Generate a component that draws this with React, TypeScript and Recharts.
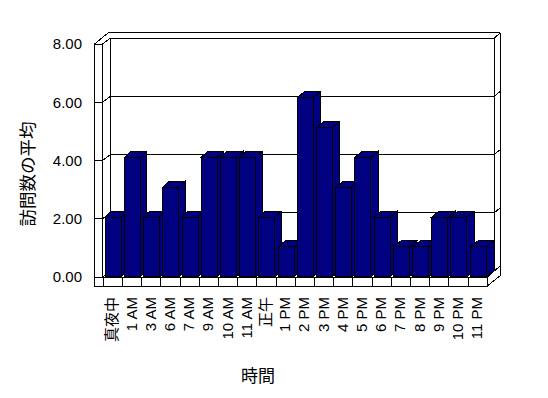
import React from 'react';
import { BarChart, Bar, XAxis, YAxis, CartesianGrid } from 'recharts';

const categories = ['真夜中', '1 AM', '3 AM', '6 AM', '7 AM', '9 AM', '10 AM', '11 AM', '正午', '1 PM', '2 PM', '3 PM', '4 PM', '5 PM', '6 PM', '7 PM', '8 PM', '9 PM', '10 PM', '11 PM'];
const visits = [2, 4, 2, 3, 2, 4, 4, 4, 2, 1, 6, 5, 3, 4, 2, 1, 1, 2, 2, 1];
const yTicks = [0, 2, 4, 6, 8];
const yTitle = '訪問数の平均';
const xTitle = '時間';

const data = categories.map((c, i) => ({ cat: c, v: visits[i] }));

const W = 548;
const H = 398;
const PL = 94.3; // plot left (left wall outer)
const PR = 487.3; // plot right
const PT = 37.9;
const PB = 276.7;
const PAD_L = 9;
const BAND = (PR - PL - PAD_L) / categories.length;
const FONT = '"Liberation Sans", Arial, "Noto Sans CJK JP", sans-serif';
const NAVY = '#000080';
const CRISP = 'crispEdges' as const;

const K = 233 / (PB - PT);
const frontY = (y: number) => 277 - (PB - y) * K;
const backY = (y: number) => 271 - (PB - y) * K;

const WALL_IN = 102.5;
const BACK_L = 110.5;
const BACK_R = 494.3;
const OUT_R = 500.3;

const Bar3D = (props: any) => {
  const { x, y, width, height } = props;
  if (height == null || height <= 0) return null;
  const dx = 6 + (2 * (x - 104)) / 366;
  const dy = -6;
  const top = `${x},${y} ${x + dx},${y + dy} ${x + width + dx},${y + dy} ${x + width},${y}`;
  const side = `${x + width},${y} ${x + width + dx},${y + dy} ${x + width + dx},${y + height + dy} ${x + width},${y + height}`;
  return (
    <g shapeRendering={CRISP}>
      <polygon points={side} fill={NAVY} stroke="#000" strokeWidth={1} />
      <polygon points={top} fill={NAVY} stroke="#000" strokeWidth={1} />
      <rect x={x} y={y} width={width} height={height} fill={NAVY} stroke="#000" strokeWidth={1} />
    </g>
  );
};

const GridLine = (props: any) => {
  const y = props.y1;
  const yf = frontY(y);
  const yb = backY(y);
  return (
    <g key={props.key ?? `g-${y}`} shapeRendering={CRISP}>
      <line x1={WALL_IN} y1={yf} x2={BACK_L} y2={yb} stroke="#000" />
      <line x1={BACK_L} y1={yb} x2={BACK_R} y2={yb} stroke="#000" />
      <line x1={BACK_R} y1={yb} x2={OUT_R} y2={yb - 5} stroke="#000" />
    </g>
  );
};

const YTick = (props: any) => {
  const { y, payload } = props;
  const yf = frontY(y);
  return (
    <g>
      <line x1={PL} y1={yf} x2={WALL_IN} y2={yf} stroke="#000" shapeRendering={CRISP} />
      <text x={82} y={yf} dy="0.36em" textAnchor="end" fontSize={15} fontFamily={FONT} fill="#000">
        {Number(payload.value).toFixed(2)}
      </text>
    </g>
  );
};

const XTick = (props: any) => {
  const { x, payload } = props;
  const left = x - BAND / 2;
  return (
    <g>
      <line x1={left} y1={277} x2={left} y2={286} stroke="#000" shapeRendering={CRISP} />
      <text
        transform={`translate(${x - 1},297) rotate(-90)`}
        textAnchor="end"
        dy="0.36em"
        fontSize={15}
        fontFamily={FONT}
        fill="#000"
      >
        {payload.value}
      </text>
    </g>
  );
};

const Background = () => (
  <svg width={W} height={H} style={{ position: 'absolute', left: 0, top: 0 }}>
    <g stroke="#000" strokeWidth={1} fill="none" shapeRendering={CRISP}>
      <line x1={PL} y1={44.3} x2={108.3} y2={32.7} />
      <line x1={108.3} y1={32.7} x2={OUT_R} y2={32.7} />
      <line x1={BACK_R} y1={38.3} x2={OUT_R} y2={32.7} />
      <line x1={OUT_R} y1={32.7} x2={OUT_R} y2={275.5} />
      <line x1={BACK_R} y1={38.3} x2={BACK_R} y2={271} />
      <line x1={PL} y1={44.3} x2={PL} y2={286} />
      <line x1={WALL_IN} y1={44.3} x2={WALL_IN} y2={277} />
      <line x1={BACK_L} y1={38.3} x2={BACK_L} y2={271} />
      <rect x={PL} y={277} width={PR - PL} height={9} />
      <line x1={PR} y1={277} x2={BACK_R} y2={271} />
      <line x1={PR} y1={286} x2={OUT_R} y2={275.5} />
    </g>
    <text
      transform="translate(28,174) rotate(-90)"
      textAnchor="middle"
      dy="0.36em"
      fontSize={17.5}
      fontFamily={FONT}
      fill="#000"
    >
      {yTitle}
    </text>
    <text x={258} y={376} textAnchor="middle" dy="0.36em" fontSize={17} fontFamily={FONT} fill="#000">
      {xTitle}
    </text>
  </svg>
);

export default function App() {
  return (
    <div style={{ position: 'fixed', left: 0, top: 0, width: W, height: H, background: '#fff' }}>
      <Background />
      <div style={{ position: 'absolute', left: 0, top: 0 }}>
        <BarChart
          width={W}
          height={H}
          data={data}
          margin={{ top: PT, right: W - PR, bottom: H - PB - 60, left: PL - 60 }}
          barSize={16}
        >
          <CartesianGrid horizontal={GridLine} vertical={false} />
          <XAxis
            dataKey="cat"
            height={60}
            interval={0}
            axisLine={false}
            tickLine={false}
            padding={{ left: PAD_L, right: 0 }}
            tick={XTick}
          />
          <YAxis
            width={60}
            domain={[0, 8]}
            ticks={yTicks}
            axisLine={false}
            tickLine={false}
            tick={YTick}
          />
          <Bar dataKey="v" shape={Bar3D} isAnimationActive={false} />
        </BarChart>
      </div>
    </div>
  );
}
